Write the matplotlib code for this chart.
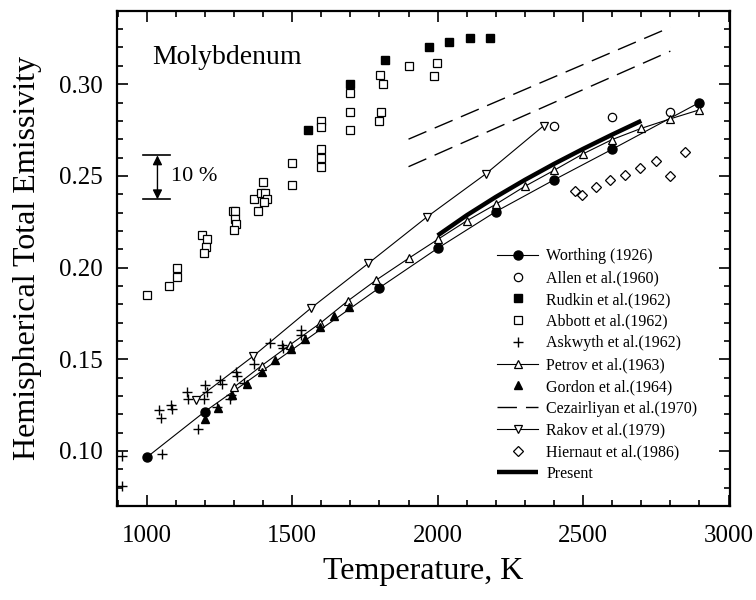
import numpy as np
import matplotlib
matplotlib.use("Agg")
import matplotlib.pyplot as plt
from matplotlib.ticker import MultipleLocator, FormatStrFormatter

plt.rcParams["font.family"] = ["Liberation Serif", "DejaVu Serif"]

# data (T in K, hemispherical total emissivity)
worthing_T = [1000, 1200, 1800, 2000, 2200, 2400, 2600, 2900]
worthing_e = [0.0965, 0.1215, 0.189, 0.2105, 0.2305, 0.2478, 0.2645, 0.290]

allen_T = [2400, 2600, 2800]
allen_e = [0.277, 0.282, 0.285]

rudkin_T = [1555, 1700, 1820, 1970, 2040, 2110, 2180]
rudkin_e = [0.275, 0.300, 0.313, 0.320, 0.323, 0.325, 0.325]

abbott_T = [1000, 1075, 1105, 1105, 1190, 1208, 1205, 1197,
            1295, 1304, 1304, 1307, 1301,
            1382, 1370, 1393, 1407, 1413, 1402, 1399,
            1500, 1500, 1600, 1600, 1600, 1600, 1600,
            1700, 1700, 1700, 1802, 1811, 1804, 1800,
            1903, 1997, 1988]
abbott_e = [0.185, 0.190, 0.195, 0.200, 0.2176, 0.2158, 0.2113, 0.2081,
            0.2308, 0.2308, 0.2266, 0.2239, 0.2207,
            0.2308, 0.2374, 0.2406, 0.2406, 0.2374, 0.2356, 0.2469,
            0.2451, 0.2568, 0.2797, 0.2766, 0.2647, 0.2599, 0.2550,
            0.2950, 0.2847, 0.2748, 0.3049, 0.300, 0.2847, 0.2797,
            0.3099, 0.3117, 0.3045]

askwyth_T = [916, 914, 1052, 1042, 1050, 1082, 1088, 1137, 1142, 1176,
             1200, 1208, 1197, 1243, 1252, 1258, 1286, 1291, 1307, 1309,
             1334, 1369, 1424, 1466, 1468, 1529, 1531]
askwyth_e = [0.0974, 0.081, 0.0983, 0.1224, 0.1179, 0.1251, 0.123, 0.1319, 0.1282, 0.1121,
             0.136, 0.1324, 0.1282, 0.1237, 0.1387, 0.1366, 0.1282, 0.1306, 0.1433, 0.1409,
             0.1369, 0.1473, 0.1587, 0.1578, 0.156, 0.166, 0.163]

petrov_T = [1300, 1395, 1492, 1596, 1692, 1789, 1900, 2000, 2100, 2200,
            2300, 2400, 2500, 2600, 2700, 2800, 2900]
petrov_e = [0.1348, 0.1465, 0.1578, 0.1696, 0.1819, 0.1932, 0.2050, 0.2153, 0.2255, 0.2345,
            0.2443, 0.2530, 0.2620, 0.2698, 0.2759, 0.2811, 0.2860]

gordon_T = [1200, 1245, 1294, 1346, 1395, 1440, 1495, 1543, 1596, 1644, 1695]
gordon_e = [0.1173, 0.1233, 0.1306, 0.1364, 0.1433, 0.1496, 0.1554, 0.1609, 0.1674, 0.1736, 0.1783]

cez_T = [1900, 2800]
cez_upper = [0.270, 0.331]
cez_lower = [0.255, 0.318]

rakov_T = [1170, 1367, 1564, 1762, 1965, 2165, 2365]
rakov_e = [0.128, 0.1518, 0.1778, 0.2023, 0.2278, 0.2510, 0.2774]

hiernaut_T = [2472, 2495, 2543, 2594, 2645, 2695, 2751, 2799, 2851]
hiernaut_e = [0.242, 0.2397, 0.2438, 0.2477, 0.2506, 0.2545, 0.2581, 0.250, 0.263]

present_T = [2000, 2100, 2200, 2300, 2400, 2500, 2600, 2700]
present_e = [0.2175, 0.2285, 0.2385, 0.2478, 0.2565, 0.2647, 0.2725, 0.2800]

fig = plt.figure(figsize=(7.56, 6.0), dpi=100)
ax = fig.add_axes([0.1544, 0.1567, 0.8112, 0.8253])

lw = 0.8
ms = 6
ax.plot(worthing_T, worthing_e, "-o", color="k", lw=lw, ms=6.5, label="Worthing (1926)")
ax.plot(allen_T, allen_e, "o", mfc="white", mec="k", mew=0.9, ms=ms, ls="none", label="Allen et al.(1960)")
ax.plot(rudkin_T, rudkin_e, "s", color="k", ms=5.2, ls="none", label="Rudkin et al.(1962)")
ax.plot(abbott_T, abbott_e, "s", mfc="white", mec="k", mew=0.9, ms=5.5, ls="none", label="Abbott et al.(1962)")
ax.plot(askwyth_T, askwyth_e, "+", color="k", mew=1.0, ms=6.5, ls="none", label="Askwyth et al.(1962)")
ax.plot(petrov_T, petrov_e, "-^", color="k", mfc="white", mew=0.9, lw=lw, ms=ms, label="Petrov et al.(1963)")
ax.plot(gordon_T, gordon_e, "^", color="k", ms=ms, ls="none", label="Gordon et al.(1964)")
ax.plot(cez_T, cez_upper, color="k", lw=1.0, dashes=(14, 6.5), label="Cezairliyan et al.(1970)")
ax.plot(cez_T, cez_lower, color="k", lw=1.0, dashes=(14, 6.5))
ax.plot(rakov_T, rakov_e, "-v", color="k", mfc="white", mew=0.9, lw=lw, ms=ms, label="Rakov et al.(1979)")
ax.plot(hiernaut_T, hiernaut_e, "D", mfc="white", mec="k", mew=0.9, ms=4.8, ls="none", label="Hiernaut et al.(1986)")
ax.plot(present_T, present_e, "-", color="k", lw=3.2, solid_capstyle="butt", label="Present")

# 10 % bracket
bracket_T = [989, 1080]
bracket_lo, bracket_hi = 0.2372, 0.2612
arrow_T = 1037
for yb in (bracket_lo, bracket_hi):
    ax.plot(bracket_T, [yb, yb], color="k", lw=1.2)
ax.annotate("", xy=(arrow_T, bracket_hi), xytext=(arrow_T, bracket_lo),
            arrowprops=dict(arrowstyle="<|-|>", color="k", lw=1.0,
                            mutation_scale=14, shrinkA=0, shrinkB=0))
ax.text(1085, 0.2494, "10 %", fontsize=16, va="center", ha="left")
ax.text(1020, 0.3147, "Molybdenum", fontsize=20, va="center", ha="left")

ax.set_xlim(897, 3005)
ax.set_ylim(0.07, 0.34)
ax.xaxis.set_major_locator(MultipleLocator(500))
ax.xaxis.set_minor_locator(MultipleLocator(100))
ax.yaxis.set_major_locator(MultipleLocator(0.05))
ax.yaxis.set_minor_locator(MultipleLocator(0.01))
ax.yaxis.set_major_formatter(FormatStrFormatter("%.2f"))
ax.tick_params(which="both", direction="in", top=True, right=True, width=1.2)
ax.tick_params(which="major", length=8, labelsize=18)
ax.tick_params(axis="x", which="major", pad=14)
ax.tick_params(axis="y", which="major", pad=10)
ax.tick_params(which="minor", length=4)
for s in ax.spines.values():
    s.set_linewidth(1.6)

ax.set_xlabel("Temperature, K", fontsize=23, labelpad=7)
ax.set_ylabel("Hemispherical Total Emissivity", fontsize=23, labelpad=12)

ax.legend(loc="upper left", bbox_to_anchor=(0.62, 0.52), frameon=False,
          fontsize=11.5, handlelength=2.6, handletextpad=0.5, labelspacing=0.36,
          borderpad=0, borderaxespad=0, numpoints=1)

fig.savefig("out.png", dpi=100)
